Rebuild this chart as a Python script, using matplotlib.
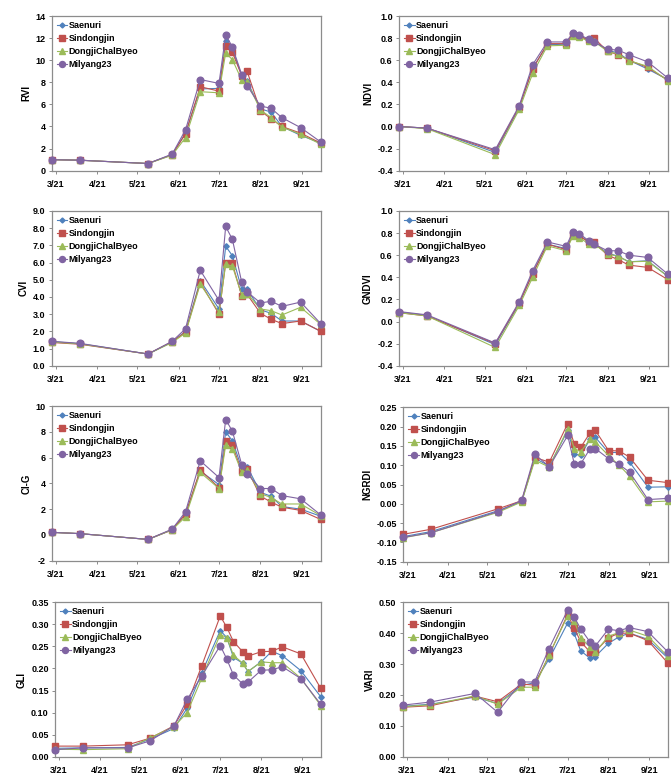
import datetime as dt
import matplotlib
matplotlib.use("Agg")
import matplotlib.pyplot as plt
import matplotlib.dates as mdates
from matplotlib.ticker import MultipleLocator, FormatStrFormatter, FuncFormatter

# sampling dates (GLI and VARI have one extra date in April)
dates = ["2021-02-26", "2021-03-19", "2021-05-09", "2021-05-27", "2021-06-06",
         "2021-06-17", "2021-07-01", "2021-07-06", "2021-07-11", "2021-07-18",
         "2021-07-22", "2021-08-01", "2021-08-09", "2021-08-17", "2021-08-31",
         "2021-09-15"]
dates_rgb = dates[:2] + ["2021-04-22"] + dates[2:]

cultivars = ["Saenuri", "Sindongjin", "DongjiChalByeo", "Milyang23"]

rvi_sae = [1.0, 0.95, 0.65, 1.45, 3.4, 7.4, 7.45, 11.7, 11.0, 8.6, 8.1, 5.6, 5.3, 4.0, 3.2, 2.5]
rvi_sin = [1.0, 0.95, 0.65, 1.45, 3.35, 7.6, 7.2, 11.3, 10.7, 8.6, 9.0, 5.4, 4.7, 4.0, 3.4, 2.5]
rvi_don = [1.0, 0.95, 0.65, 1.4, 3.0, 7.15, 7.05, 10.65, 10.05, 8.2, 8.0, 5.5, 4.8, 3.95, 3.3, 2.4]
rvi_mil = [1.0, 0.95, 0.65, 1.5, 3.7, 8.25, 7.9, 12.3, 11.2, 8.7, 7.7, 5.85, 5.65, 4.8, 3.9, 2.6]

ndvi_sae = [0.0, -0.015, -0.235, 0.17, 0.53, 0.74, 0.745, 0.83, 0.82, 0.78, 0.77, 0.69, 0.665, 0.60, 0.52, 0.425]
ndvi_sin = [0.0, -0.015, -0.22, 0.18, 0.52, 0.75, 0.75, 0.83, 0.82, 0.78, 0.80, 0.68, 0.65, 0.60, 0.535, 0.42]
ndvi_don = [0.0, -0.02, -0.255, 0.155, 0.48, 0.73, 0.735, 0.82, 0.81, 0.77, 0.77, 0.68, 0.655, 0.595, 0.545, 0.415]
ndvi_mil = [0.0, -0.015, -0.21, 0.19, 0.56, 0.765, 0.765, 0.845, 0.83, 0.79, 0.765, 0.70, 0.69, 0.65, 0.585, 0.44]

cvi_sae = [1.4, 1.28, 0.68, 1.38, 2.0, 4.95, 3.3, 6.95, 6.4, 4.45, 4.45, 3.25, 3.05, 2.6, 2.6, 2.0]
cvi_sin = [1.35, 1.25, 0.68, 1.4, 1.95, 4.85, 3.0, 6.0, 5.95, 4.05, 4.15, 3.05, 2.7, 2.45, 2.6, 2.0]
cvi_don = [1.38, 1.27, 0.68, 1.35, 1.9, 4.75, 3.1, 5.9, 5.8, 4.1, 4.2, 3.3, 3.2, 2.95, 3.4, 2.4]
cvi_mil = [1.42, 1.3, 0.68, 1.42, 2.15, 5.55, 3.8, 8.1, 7.35, 4.85, 4.3, 3.65, 3.75, 3.45, 3.7, 2.45]

gndvi_sae = [0.085, 0.055, -0.21, 0.16, 0.44, 0.70, 0.66, 0.79, 0.78, 0.72, 0.70, 0.62, 0.59, 0.54, 0.55, 0.41]
gndvi_sin = [0.08, 0.05, -0.20, 0.17, 0.43, 0.70, 0.65, 0.78, 0.77, 0.72, 0.715, 0.60, 0.56, 0.51, 0.49, 0.38]
gndvi_don = [0.08, 0.05, -0.235, 0.145, 0.40, 0.685, 0.64, 0.77, 0.76, 0.70, 0.70, 0.61, 0.59, 0.54, 0.545, 0.41]
gndvi_mil = [0.09, 0.06, -0.195, 0.18, 0.46, 0.72, 0.68, 0.81, 0.795, 0.73, 0.70, 0.64, 0.64, 0.60, 0.58, 0.43]

cig_sae = [0.2, 0.1, -0.35, 0.4, 1.65, 4.95, 3.9, 8.0, 7.3, 5.2, 5.3, 3.3, 3.0, 2.2, 2.0, 1.45]
cig_sin = [0.2, 0.1, -0.35, 0.4, 1.6, 5.05, 3.65, 7.25, 6.95, 4.95, 5.1, 3.0, 2.55, 2.15, 1.9, 1.2]
cig_don = [0.2, 0.1, -0.35, 0.4, 1.4, 4.85, 3.6, 6.95, 6.7, 4.85, 5.0, 3.2, 2.9, 2.4, 2.4, 1.5]
cig_mil = [0.2, 0.1, -0.35, 0.45, 1.8, 5.75, 4.45, 8.95, 8.05, 5.45, 4.75, 3.6, 3.6, 3.05, 2.8, 1.55]

ngrdi_sae = [-0.085, -0.072, -0.018, 0.006, 0.118, 0.098, 0.19, 0.128, 0.126, 0.168, 0.172, 0.133, 0.133, 0.108, 0.043, 0.044]
ngrdi_sin = [-0.079, -0.066, -0.013, 0.008, 0.12, 0.108, 0.208, 0.155, 0.147, 0.184, 0.19, 0.138, 0.137, 0.121, 0.061, 0.055]
ngrdi_don = [-0.088, -0.075, -0.022, 0.005, 0.113, 0.095, 0.195, 0.143, 0.135, 0.168, 0.16, 0.125, 0.10, 0.072, 0.005, 0.007]
ngrdi_mil = [-0.087, -0.075, -0.02, 0.009, 0.128, 0.096, 0.177, 0.103, 0.104, 0.143, 0.143, 0.117, 0.102, 0.082, 0.011, 0.014]

gli_sae = [0.019, 0.02, 0.021, 0.04, 0.064, 0.11, 0.19, 0.286, 0.27, 0.225, 0.212, 0.193, 0.215, 0.239, 0.229, 0.195, 0.136]
gli_sin = [0.024, 0.024, 0.027, 0.042, 0.07, 0.119, 0.206, 0.319, 0.293, 0.261, 0.238, 0.228, 0.238, 0.239, 0.249, 0.233, 0.155]
gli_don = [0.017, 0.016, 0.018, 0.043, 0.068, 0.10, 0.178, 0.277, 0.27, 0.23, 0.212, 0.193, 0.215, 0.213, 0.213, 0.178, 0.116]
gli_mil = [0.016, 0.02, 0.02, 0.036, 0.07, 0.13, 0.183, 0.252, 0.221, 0.185, 0.165, 0.169, 0.196, 0.197, 0.204, 0.177, 0.119]

vari_sae = [0.163, 0.17, 0.193, 0.172, 0.23, 0.24, 0.316, 0.432, 0.40, 0.343, 0.319, 0.324, 0.367, 0.388, 0.40, 0.38, 0.32]
vari_sin = [0.16, 0.165, 0.196, 0.178, 0.235, 0.232, 0.328, 0.46, 0.418, 0.372, 0.34, 0.34, 0.385, 0.40, 0.40, 0.376, 0.304]
vari_don = [0.162, 0.168, 0.197, 0.17, 0.225, 0.225, 0.33, 0.455, 0.44, 0.385, 0.355, 0.338, 0.39, 0.402, 0.41, 0.39, 0.325]
vari_mil = [0.167, 0.177, 0.205, 0.144, 0.242, 0.242, 0.35, 0.474, 0.453, 0.414, 0.372, 0.358, 0.413, 0.408, 0.418, 0.405, 0.34]

# style per cultivar: colour, marker, marker size
styles = [("#4F81BD", "D", 2.8), ("#C0504D", "s", 4.2),
          ("#9BBB59", "^", 4.6), ("#8064A2", "o", 4.8)]

# name, x dates, series, y-limits, y-step, y-format, box in pixels (left, top, right, bottom)
panels = [
    ("RVI", dates, [rvi_sae, rvi_sin, rvi_don, rvi_mil], (0, 14), 2, "%d", (51.7, 16, 320.7, 170.7)),
    ("NDVI", dates, [ndvi_sae, ndvi_sin, ndvi_don, ndvi_mil], (-0.4, 1.0), 0.2, "%.1f", (399, 16, 667.7, 170.7)),
    ("CVI", dates, [cvi_sae, cvi_sin, cvi_don, cvi_mil], (0, 9), 1, "%.1f", (51.7, 211, 320.7, 365.7)),
    ("GNDVI", dates, [gndvi_sae, gndvi_sin, gndvi_don, gndvi_mil], (-0.4, 1.0), 0.2, "%.1f", (399, 211, 667.7, 365.7)),
    ("CI-G", dates, [cig_sae, cig_sin, cig_don, cig_mil], (-2, 10), 2, "%d", (51.7, 406, 320.7, 560.7)),
    ("NGRDI", dates, [ngrdi_sae, ngrdi_sin, ngrdi_don, ngrdi_mil], (-0.15, 0.25), 0.05, "%.2f", (403.3, 407.3, 667.7, 561.7)),
    ("GLI", dates_rgb, [gli_sae, gli_sin, gli_don, gli_mil], (0, 0.35), 0.05, "%.2f", (55, 602.3, 320.7, 756.7)),
    ("VARI", dates_rgb, [vari_sae, vari_sin, vari_don, vari_mil], (0, 0.5), 0.1, "%.2f", (402.7, 602.3, 667.7, 756.7)),
]

W, H = 671, 779

plt.rcParams.update({"font.family": ["Liberation Sans", "DejaVu Sans"],
                     "font.weight": "bold",
                     "font.size": 6.5,
                     "axes.unicode_minus": False})


def month_label(x, pos=None):
    d = mdates.num2date(x)
    return "%d/%s" % (d.month, d.strftime("%y"))


fig = plt.figure(figsize=(W / 100, H / 100), dpi=100)

for name, xd, series, ylim, ystep, yfmt, box in panels:
    l, t, r, b = box
    ax = fig.add_axes([l / W, 1 - b / H, (r - l) / W, (b - t) / H])
    x = [dt.datetime.strptime(s, "%Y-%m-%d") for s in xd]
    for lab, y, (col, mk, ms) in zip(cultivars, series, styles):
        ax.plot(x, y, color=col, lw=0.8, marker=mk, ms=ms, mec=col, mfc=col,
                label=lab, clip_on=False, zorder=3)
    ax.set_xlim(x[0], x[-1])
    ax.set_ylim(*ylim)
    ax.yaxis.set_major_locator(MultipleLocator(ystep))
    ax.yaxis.set_major_formatter(FormatStrFormatter(yfmt))
    ax.xaxis.set_major_locator(mdates.MonthLocator(bymonthday=1))
    ax.xaxis.set_major_formatter(FuncFormatter(month_label))
    ax.set_ylabel(name, fontsize=7, fontweight="bold", labelpad=3)
    for sp in ax.spines.values():
        sp.set_color("#8C8C8C")
        sp.set_linewidth(0.9)
    ax.tick_params(axis="both", length=2.5, width=0.7, color="#8C8C8C",
                   labelsize=6.5, pad=2)
    ax.tick_params(axis="x", pad=4)
    for tl in ax.get_xticklabels() + ax.get_yticklabels():
        tl.set_fontweight("bold")
    leg = ax.legend(loc="upper left", frameon=False, fontsize=6.5,
                    handlelength=1.2, handletextpad=0.15, labelspacing=0.45,
                    borderaxespad=0.25, borderpad=0.3, markerscale=0.9)
    for txt in leg.get_texts():
        txt.set_fontweight("bold")

fig.savefig("out.png", dpi=100)
